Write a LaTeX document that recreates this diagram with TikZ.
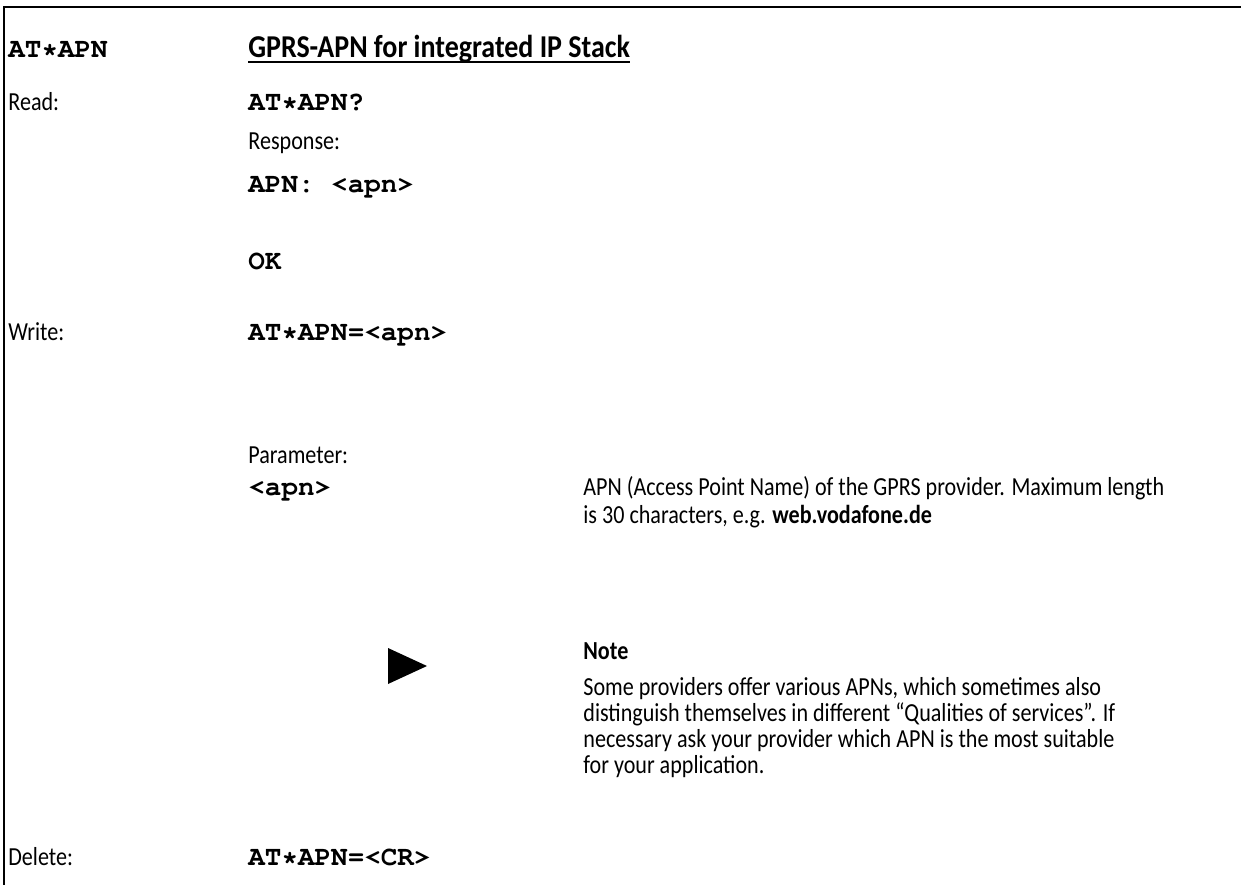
\documentclass[tikz,border=0pt]{standalone}
\usepackage[T1]{fontenc}
\usepackage{fontspec}
\setmainfont{Carlito}[FakeStretch=0.85]
\newfontfamily\headfont{Carlito}[FakeStretch=0.88]
\usetikzlibrary{positioning}
% Courier for the AT commands
\newcommand\atfont{\fontencoding{T1}\fontfamily{pcr}\fontseries{b}\fontsize{13.8}{16}\selectfont}

\begin{document}
\begin{tikzpicture}[
  x=0.5pt,
  y=-0.5pt,
  label text/.style={
    anchor=base west,
    inner sep=0pt,
    font=\fontsize{13}{15}\selectfont
  },
  code text/.style={
    anchor=base west,
    inner sep=0pt,
    font=\atfont
  },
  frame line/.style={
    line width=0.75pt,
    line cap=rect
  },
]
\useasboundingbox (0,0) rectangle (1241,884);
\draw[frame line] (1241,7) -- (4,7) -- (4,884);

% heading
\node[code text] (cmd) at (8,57) {AT*APN};
\node[label text, font=\headfont\fontsize{15.9}{18}\selectfont\bfseries] (title) at (248,57)
  {GPRS-APN for integrated IP Stack};
\draw[line width=0.6pt] ([yshift=-2.5pt]title.base west) -- ([yshift=-2.5pt]title.base east);

% read
\node[label text] (read) at (8,110) {Read:};
\node[code text] (readcmd) at (248,110) {AT*APN?};
\node[label text] (response) at (248,149) {Response:};
\node[code text] (answer) at (248,192) {APN:~<apn>};
\node[code text] (ok) at (248,269) {OK};

% write
\node[label text] (write) at (8,340) {Write:};
\node[code text] (writecmd) at (248,340) {AT*APN=<apn>};
\node[label text] (param) at (248,463) {Parameter:};
\node[code text] (apn) at (248,495) {<apn>};
\node[label text] (apndesc) at (583,495)
  {APN (Access Point Name) of the GPRS provider. Maximum length};
\node[label text] (apndesc2) at (583,523)
  {is 30 characters, e.g. \textbf{web.vodafone.de}};

% note
\fill (388,648) -- (427,666) -- (388,684) -- cycle;
\node[label text, font=\fontsize{13}{15}\selectfont\bfseries] (note) at (583,659) {Note};
\node[label text] (note1) at (583,695)
  {Some providers offer various APNs, which sometimes also};
\node[label text] (note2) at (583,721)
  {distinguish themselves in different “Qualities of services”. If};
\node[label text] (note3) at (583,747)
  {necessary ask your provider which APN is the most suitable};
\node[label text] (note4) at (583,773)
  {for your application.};

% delete
\node[label text] (delete) at (8,865) {Delete:};
\node[code text] (deletecmd) at (248,865) {AT*APN=<CR>};
\end{tikzpicture}
\end{document}
